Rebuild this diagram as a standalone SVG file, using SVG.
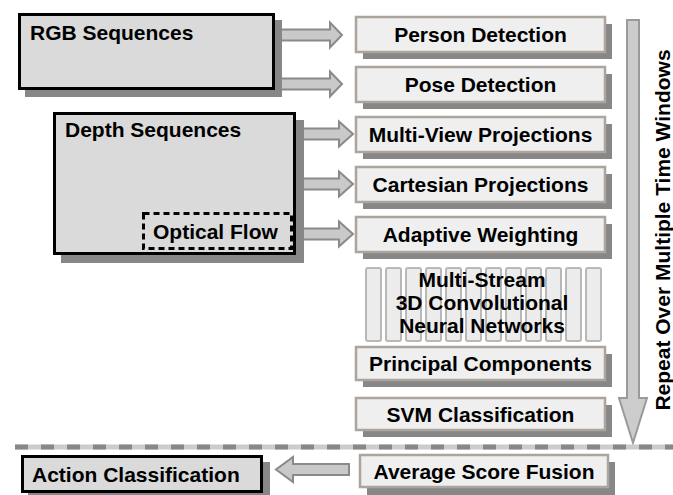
<svg xmlns="http://www.w3.org/2000/svg" width="673" height="495" viewBox="0 0 673 495">
<defs>
<style>
text{font-family:"Liberation Sans",Arial,sans-serif;font-weight:bold;font-size:21px;fill:#000}
.c{text-anchor:middle}
.sh{fill:#878787}
.dk{fill:#dadada;stroke:#000;stroke-width:3}
.lt{fill:#efefef;stroke:#aca59d;stroke-width:2.5}
.bar{fill:#ececec;stroke:#b8b8b8;stroke-width:2}
.arr{fill:#c9c9c9;stroke:#8a8a8a;stroke-width:2;stroke-linejoin:miter}
.varr{fill:#cccccc;stroke:#9a9a9a;stroke-width:2}
</style>
</defs>
<rect width="673" height="495" fill="#fff"/>

<g id="connectors">
<path class="arr" d="M276,29.5 H330 V22.5 L342,35 L330,47.5 V40.5 H276 Z"/>
<path class="arr" d="M276,78.5 H330 V71.5 L342,84 L330,96.5 V89.5 H276 Z"/>
<path class="arr" d="M298,128.5 H339 V121.5 L353,134 L339,146.5 V139.5 H298 Z"/>
<path class="arr" d="M298,178.5 H339 V171.5 L353,184 L339,196.5 V189.5 H298 Z"/>
<path class="arr" d="M298,228.5 H339 V221.5 L353,234 L339,246.5 V239.5 H298 Z"/>
<path class="arr" d="M349,464 H293 V457 L276,469.5 L293,482 V475 H349 Z"/>
<path class="varr" d="M627,20 H639 V398 H647 L633,443 L619,398 H627 Z"/>
</g>

<g id="separator">
<line x1="15" y1="447" x2="673" y2="447" stroke="#cccccc" stroke-width="5"/>
<line x1="15" y1="447" x2="673" y2="447" stroke="#888888" stroke-width="5" stroke-dasharray="13,13"/>
</g>

<g id="rgb">
<rect class="sh" x="25" y="20" width="257" height="77"/>
<rect class="dk" x="19.5" y="14.5" width="254" height="74"/>
<text x="30" y="40">RGB Sequences</text>
</g>

<g id="depth">
<rect class="sh" x="61" y="120" width="243" height="143"/>
<rect class="dk" x="54.5" y="113.5" width="240" height="140"/>
<text x="65" y="137">Depth Sequences</text>
</g>

<g id="optical-flow">
<rect x="143.5" y="213.5" width="148" height="35" fill="none" stroke="#000" stroke-width="3" stroke-dasharray="6,4"/>
<text x="153" y="239">Optical Flow</text>
</g>

<g id="person-detection">
<rect class="sh" x="363" y="24" width="249" height="35"/>
<rect class="lt" x="356" y="17" width="249" height="35"/>
<text class="c" x="480.5" y="42">Person Detection</text>
</g>

<g id="pose-detection">
<rect class="sh" x="363" y="74" width="249" height="35"/>
<rect class="lt" x="356" y="67" width="249" height="35"/>
<text class="c" x="480.5" y="92">Pose Detection</text>
</g>

<g id="multi-view">
<rect class="sh" x="363" y="124" width="249" height="35"/>
<rect class="lt" x="356" y="117" width="249" height="35"/>
<text class="c" x="480.5" y="142">Multi-View Projections</text>
</g>

<g id="cartesian">
<rect class="sh" x="363" y="174" width="249" height="35"/>
<rect class="lt" x="356" y="167" width="249" height="35"/>
<text class="c" x="480.5" y="192">Cartesian Projections</text>
</g>

<g id="adaptive">
<rect class="sh" x="363" y="224" width="249" height="35"/>
<rect class="lt" x="356" y="217" width="249" height="35"/>
<text class="c" x="480.5" y="242">Adaptive Weighting</text>
</g>

<g id="cnn">
<rect class="bar" x="366" y="268" width="15" height="73" rx="2"/>
<rect class="bar" x="386" y="268" width="15" height="73" rx="2"/>
<rect class="bar" x="406" y="268" width="15" height="73" rx="2"/>
<rect class="bar" x="426" y="268" width="15" height="73" rx="2"/>
<rect class="bar" x="446" y="268" width="15" height="73" rx="2"/>
<rect class="bar" x="466" y="268" width="15" height="73" rx="2"/>
<rect class="bar" x="486" y="268" width="15" height="73" rx="2"/>
<rect class="bar" x="506" y="268" width="15" height="73" rx="2"/>
<rect class="bar" x="526" y="268" width="15" height="73" rx="2"/>
<rect class="bar" x="546" y="268" width="15" height="73" rx="2"/>
<rect class="bar" x="566" y="268" width="15" height="73" rx="2"/>
<rect class="bar" x="586" y="268" width="15" height="73" rx="2"/>
<text class="c" x="482" y="287">Multi-Stream</text>
<text class="c" x="482" y="310">3D Convolutional</text>
<text class="c" x="482" y="333">Neural Networks</text>
</g>

<g id="principal">
<rect class="sh" x="363" y="354" width="249" height="33"/>
<rect class="lt" x="356" y="347" width="249" height="33"/>
<text class="c" x="480.5" y="371">Principal Components</text>
</g>

<g id="svm">
<rect class="sh" x="363" y="405" width="249" height="32"/>
<rect class="lt" x="356" y="398" width="249" height="32"/>
<text class="c" x="480.5" y="421.5">SVM Classification</text>
</g>

<g id="average">
<rect class="sh" x="367" y="462" width="248" height="33"/>
<rect class="lt" x="360" y="455" width="248" height="32"/>
<text class="c" x="484" y="478.5">Average Score Fusion</text>
</g>

<g id="action">
<rect class="sh" x="28" y="462" width="242" height="38"/>
<rect class="dk" x="22.5" y="456.5" width="239" height="35"/>
<text x="32" y="482">Action Classification</text>
</g>

<g id="repeat-label">
<text class="c" transform="translate(670,230) rotate(-90)">Repeat Over Multiple Time Windows</text>
</g>
</svg>
